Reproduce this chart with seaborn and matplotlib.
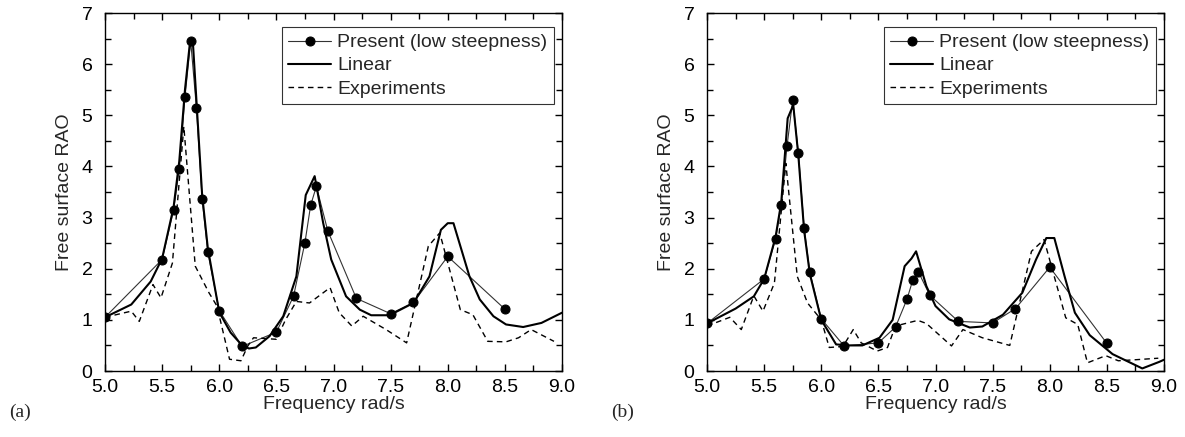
import numpy as np
import pandas as pd
import matplotlib
matplotlib.use("Agg")
import matplotlib.pyplot as plt
from matplotlib.ticker import MultipleLocator, FormatStrFormatter
import seaborn as sns

# ==================================================
# Settings
# ==================================================
sns.set_theme(style="ticks", context="notebook")
plt.rcParams["font.family"] = ["Liberation Sans", "DejaVu Sans"]

# ==================================================
# Data
# ==================================================
# (a) present method, low steepness
present_a_f = [5.0, 5.5, 5.6, 5.65, 5.7, 5.75, 5.8, 5.85, 5.9, 6.0, 6.2, 6.5,
               6.65, 6.75, 6.8, 6.85, 6.95, 7.2, 7.5, 7.7, 8.0, 8.5]
present_a_v = [1.05, 2.18, 3.14, 3.95, 5.36, 6.45, 5.15, 3.37, 2.32, 1.18, 0.48, 0.76,
               1.46, 2.51, 3.24, 3.61, 2.74, 1.42, 1.12, 1.34, 2.24, 1.21]

linear_a_f = [5.0, 5.23, 5.4, 5.5, 5.6, 5.65, 5.7, 5.74, 5.77, 5.8, 5.85, 5.9, 6.0, 6.1,
              6.2, 6.26, 6.32, 6.44, 6.56, 6.675, 6.757, 6.835, 6.91, 6.98, 7.11, 7.23,
              7.33, 7.49, 7.7, 7.84, 7.94, 8.0, 8.05, 8.12, 8.19, 8.28, 8.4, 8.51,
              8.66, 8.82, 9.0]
linear_a_v = [1.05, 1.30, 1.75, 2.2, 3.2, 4.1, 5.5, 6.35, 6.4, 5.3, 3.45, 2.4, 1.15, 0.75,
              0.5, 0.44, 0.46, 0.68, 1.07, 1.85, 3.44, 3.81, 2.89, 2.18, 1.46, 1.20,
              1.09, 1.09, 1.33, 1.85, 2.76, 2.89, 2.89, 2.37, 1.85, 1.40, 1.07, 0.91,
              0.86, 0.94, 1.14]

exp_a_f = [5.0, 5.23, 5.3, 5.42, 5.49, 5.59, 5.69, 5.79, 5.91, 5.98, 6.09, 6.19, 6.25,
           6.3, 6.5, 6.58, 6.675, 6.79, 6.97, 7.05, 7.16, 7.26, 7.46, 7.64, 7.83, 7.93,
           8.11, 8.22, 8.35, 8.51, 8.62, 8.73, 8.93]
exp_a_v = [1.05, 1.17, 0.97, 1.69, 1.43, 2.11, 4.78, 2.05, 1.53, 1.27, 0.23, 0.20, 0.49,
           0.65, 0.62, 1.0, 1.36, 1.33, 1.63, 1.14, 0.88, 1.07, 0.81, 0.55, 2.44, 2.70,
           1.20, 1.10, 0.58, 0.57, 0.65, 0.81, 0.58]

# (b) present method, low steepness
present_b_f = [5.0, 5.5, 5.6, 5.65, 5.7, 5.75, 5.8, 5.85, 5.9, 6.0, 6.2, 6.5,
               6.65, 6.75, 6.8, 6.85, 6.95, 7.2, 7.5, 7.7, 8.0, 8.5]
present_b_v = [0.93, 1.80, 2.58, 3.25, 4.39, 5.30, 4.26, 2.80, 1.93, 1.02, 0.49, 0.55,
               0.86, 1.40, 1.77, 1.94, 1.48, 0.97, 0.94, 1.22, 2.03, 0.54]

linear_b_f = [5.0, 5.25, 5.41, 5.5, 5.6, 5.65, 5.706, 5.755, 5.8, 5.85, 5.9, 6.0, 6.13,
              6.25, 6.36, 6.51, 6.625, 6.73, 6.79, 6.83, 6.92, 7.0, 7.12, 7.3, 7.41,
              7.59, 7.76, 7.88, 7.97, 8.04, 8.13, 8.22, 8.35, 8.55, 8.81, 8.96, 9.0]
linear_b_v = [0.93, 1.22, 1.46, 1.80, 2.62, 3.3, 4.94, 5.2, 4.2, 2.75, 1.9, 1.0, 0.52,
              0.50, 0.50, 0.65, 1.0, 2.05, 2.2, 2.34, 1.66, 1.27, 1.01, 0.85, 0.87,
              1.10, 1.53, 2.18, 2.60, 2.60, 1.85, 1.14, 0.70, 0.33, 0.05, 0.18, 0.22]

exp_b_f = [5.0, 5.2, 5.3, 5.41, 5.49, 5.59, 5.69, 5.79, 5.88, 6.0, 6.07, 6.19, 6.28,
           6.35, 6.49, 6.58, 6.65, 6.845, 6.92, 7.14, 7.24, 7.41, 7.65, 7.84, 7.95,
           8.14, 8.245, 8.33, 8.49, 8.6, 8.75, 8.95]
exp_b_v = [0.88, 1.05, 0.81, 1.47, 1.17, 1.72, 4.06, 1.85, 1.33, 1.0, 0.46, 0.48, 0.81,
           0.55, 0.39, 0.46, 0.88, 0.99, 0.93, 0.49, 0.81, 0.65, 0.50, 2.34, 2.57,
           1.04, 0.91, 0.16, 0.30, 0.20, 0.22, 0.25]

panels = [
    ("(a)", present_a_f, present_a_v, linear_a_f, linear_a_v, exp_a_f, exp_a_v),
    ("(b)", present_b_f, present_b_v, linear_b_f, linear_b_v, exp_b_f, exp_b_v),
]

# ==================================================
# Figure
# ==================================================
fig = plt.figure(figsize=(11.85, 4.37), dpi=100)
lefts = [105 / 1185, 707 / 1185]

for left, (tag, pf, pv, lf, lv, ef, ev) in zip(lefts, panels):
    ax = fig.add_axes([left, 66 / 437, 457 / 1185, 358 / 437])

    sns.lineplot(x=pf, y=pv, ax=ax, sort=False, estimator=None,
                 color="#333333", linewidth=0.8, marker="o", markersize=6.5,
                 markerfacecolor="black", markeredgecolor="black",
                 label="Present (low steepness)")
    sns.lineplot(x=lf, y=lv, ax=ax, sort=False, estimator=None,
                 color="black", linewidth=1.5, label="Linear")
    sns.lineplot(x=ef, y=ev, ax=ax, sort=False, estimator=None,
                 color="black", linewidth=1.0, linestyle=(0, (4, 3)),
                 label="Experiments")

    ax.set_xlim(5.0, 9.0)
    ax.set_ylim(0, 7)
    ax.xaxis.set_major_locator(MultipleLocator(0.5))
    ax.xaxis.set_minor_locator(MultipleLocator(0.25))
    ax.xaxis.set_major_formatter(FormatStrFormatter("%.1f"))
    ax.yaxis.set_major_locator(MultipleLocator(1))
    ax.yaxis.set_minor_locator(MultipleLocator(0.5))
    ax.tick_params(which="both", direction="in", top=True, right=True,
                   labelsize=14, colors="black", width=1)
    ax.tick_params(which="major", length=5)
    ax.tick_params(which="minor", length=4)
    ax.tick_params(axis="x", which="major", pad=6)
    ax.tick_params(axis="y", which="major", pad=9)
    for s in ax.spines.values():
        s.set_linewidth(1)
        s.set_color("black")

    ax.set_xlabel("Frequency rad/s", fontsize=14, labelpad=0)
    ax.set_ylabel("Free surface RAO", fontsize=14, labelpad=6)

    leg = ax.legend(loc="upper right", bbox_to_anchor=(1 - 8 / 457, 1 - 14 / 358),
                    borderaxespad=0, fontsize=14, frameon=True, fancybox=False,
                    edgecolor="black", handlelength=2.2, handletextpad=0.3,
                    borderpad=0.35, labelspacing=0.28)
    leg.get_frame().set_linewidth(0.8)

    fig.text(left - 96 / 1185, 25 / 437, tag, fontsize=14,
             family=["Liberation Serif", "DejaVu Serif"], ha="left", va="center")

fig.savefig("out.png", dpi=100, facecolor="white")
